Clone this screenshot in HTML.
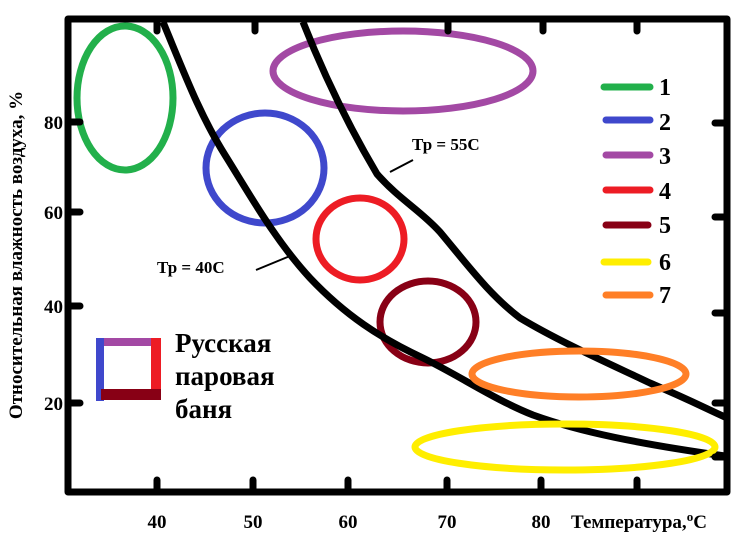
<!DOCTYPE html><html><head><meta charset="utf-8"><style>body{margin:0;background:#fff}svg{display:block}text{font-family:"Liberation Serif","DejaVu Serif",serif;font-weight:bold;fill:#000}</style></head><body>
<svg width="755" height="545" viewBox="0 0 755 545">
<rect x="0" y="0" width="755" height="545" fill="#fff"/>
<g fill="none" stroke-width="7">
<ellipse cx="125" cy="98" rx="48" ry="72" stroke="#22b04b"/>
<ellipse cx="265" cy="168" rx="59" ry="55" stroke="#3f48cc"/>
<ellipse cx="403" cy="71" rx="130" ry="40" stroke="#a349a4"/>
<ellipse cx="360" cy="239" rx="44" ry="41" stroke="#ed1c24"/>
<ellipse cx="428" cy="322" rx="48" ry="41" stroke="#880015"/>
</g>
<g fill="none" stroke="#000" stroke-width="7" stroke-linejoin="round">
<path d="M163,22 C185,75 200,115 225,155 C250,195 275,240 310,278 C345,315 380,338 423,358 C460,376 495,400 533,415 C580,432 640,444 725,456"/>
<path d="M303,22 C320,65 345,120 377,174 C400,200 420,210 440,232 C470,268 490,295 520,318 C560,342 610,364 650,383 C690,400 705,408 725,417"/>
<rect x="68" y="19" width="659" height="473"/>
</g>
<g fill="none" stroke-width="7">
<ellipse cx="579" cy="374" rx="107" ry="23" stroke="#ff7f27"/>
<ellipse cx="565" cy="447" rx="150" ry="23" stroke="#ffee00"/>
</g>
<g stroke="#000" stroke-width="7" stroke-linecap="round">
<path d="M157,19v12M255,19v12M448,19v12M543,19v12M637,19v12"/>
<path d="M157,492v-12M253,492v-12M348,492v-12M447,492v-12M541,492v-12M637,492v-12"/>
<path d="M68,122h12M68,212h12M68,306h12M68,403h12"/>
<path d="M727,123h-12M727,217h-12M727,313h-12M727,403h-12M727,457h-12"/>
</g>
<g stroke="#000" stroke-width="2"><path d="M390,172L413,160M256,270L290,256"/></g>
<text x="412" y="150" font-size="17">Тр = 55С</text>
<text x="157" y="273" font-size="17">Тр = 40С</text>
<g stroke-width="7" stroke-linecap="round">
<path d="M604,87h46" stroke="#22b04b"/><path d="M606,120h44" stroke="#3f48cc"/>
<path d="M606,155h44" stroke="#a349a4"/><path d="M606,190h44" stroke="#ed1c24"/>
<path d="M606,225h42" stroke="#880015"/><path d="M604,262h44" stroke="#ffee00"/>
<path d="M606,295h44" stroke="#ff7f27"/>
</g>
<g font-size="24">
<text x="659" y="95">1</text><text x="659" y="130">2</text><text x="659" y="164">3</text>
<text x="659" y="199">4</text><text x="659" y="233">5</text><text x="659" y="270">6</text><text x="659" y="303">7</text>
</g>
<rect x="100" y="338" width="58" height="8" fill="#a349a4"/>
<rect x="96" y="338" width="8" height="63" fill="#3f48cc"/>
<rect x="151" y="338" width="10" height="62" fill="#ed1c24"/>
<rect x="101" y="389" width="60" height="11" fill="#880015"/>
<g font-size="27"><text x="175" y="352">Русская</text><text x="175" y="385">паровая</text><text x="175" y="418">баня</text></g>
<g font-size="19" text-anchor="middle">
<text x="157" y="528">40</text><text x="253" y="528">50</text><text x="348" y="528">60</text><text x="447" y="528">70</text><text x="541" y="528">80</text>
</g>
<g font-size="19" text-anchor="end">
<text x="63" y="129">80</text><text x="63" y="219">60</text><text x="63" y="313">40</text><text x="63" y="410">20</text>
</g>
<text x="571" y="528" font-size="19">Температура,<tspan font-size="13" dy="-7">o</tspan><tspan dy="7">С</tspan></text>
<text transform="translate(22,255) rotate(-90)" font-size="19" text-anchor="middle">Относительная влажность воздуха, %</text>
</svg></body></html>
